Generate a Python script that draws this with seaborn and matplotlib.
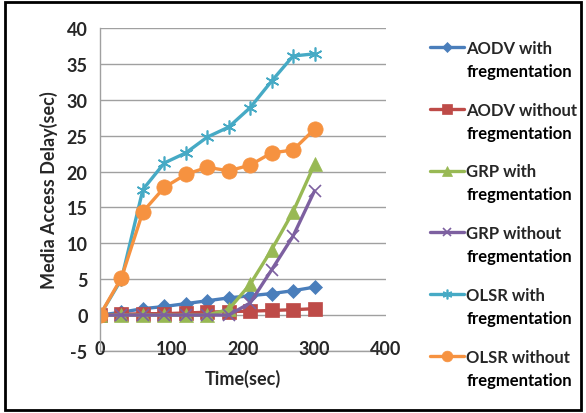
import matplotlib
matplotlib.use("Agg")
import matplotlib.pyplot as plt
import seaborn as sns
import pandas as pd
from matplotlib.patches import Rectangle
from matplotlib.font_manager import FontProperties

time = [0, 30, 60, 90, 120, 150, 180, 210, 240, 270, 300]
aodv_with = [0, 0.4, 0.9, 1.2, 1.6, 2.0, 2.4, 2.7, 3.0, 3.4, 3.9]
aodv_without = [0, 0.1, 0.2, 0.2, 0.3, 0.4, 0.5, 0.55, 0.65, 0.75, 0.9]
grp_with = [0, 0, 0, 0, 0, 0, 0.8, 4.3, 9.1, 14.4, 21.0]
grp_without = [0, 0, 0, 0, 0, 0, 0, 1.7, 6.3, 11.0, 17.3]
olsr_with = [0, 5.0, 17.5, 21.2, 22.6, 24.8, 26.2, 28.9, 32.6, 36.1, 36.4]
olsr_without = [0, 5.2, 14.4, 17.8, 19.6, 20.6, 20.1, 20.9, 22.6, 23.0, 25.9]

first_lines = ["AODV with", "AODV without", "GRP with", "GRP without",
               "OLSR with", "OLSR without"]
second_line = "fregmentation"
series = [aodv_with, aodv_without, grp_with, grp_without, olsr_with, olsr_without]
colors = ["#4a7ebb", "#be4b48", "#98b954", "#7d60a0", "#46aac5", "#f69240"]
markers = ["D", "s", "^", "x", (6, 2, 0), "o"]
msizes = [7.5, 9.5, 9.5, 9, 10, 11]

sns.set_theme(style="white")
plt.rcParams["font.family"] = ["Lato", "DejaVu Sans"]
plt.rcParams["font.weight"] = "bold"
plt.rcParams["axes.unicode_minus"] = False

fig = plt.figure(figsize=(5.86, 4.14), dpi=100)
ax = fig.add_axes([100 / 586, 62 / 414, 286 / 586, 323 / 414])

for lab, vals, c, m, ms in zip(first_lines, series, colors, markers, msizes):
    df = pd.DataFrame({"Time": time, "Delay": vals})
    sns.lineplot(data=df, x="Time", y="Delay", ax=ax, color=c, marker=m,
                 markersize=ms, linewidth=2.4, label=lab,
                 markeredgecolor=c, markeredgewidth=1.2 if m in ("x", (6, 2, 0)) else 0.5)

ax.set_xlim(0, 400)
ax.set_ylim(-5, 40)
ax.set_yticks(range(-5, 41, 5))
ax.set_xticks([0, 100, 200, 300, 400])
ax.yaxis.grid(True, color="#a0a0a0", linewidth=1)
ax.xaxis.grid(False)
ax.axhline(-5, color="#a0a0a0", linewidth=1, clip_on=False, zorder=0.5)
for s in ["top", "right", "bottom"]:
    ax.spines[s].set_visible(False)
ax.spines["left"].set_color("#a0a0a0")
ax.spines["left"].set_linewidth(1)
ax.tick_params(axis="y", labelsize=13, pad=9, length=0)
ax.tick_params(axis="x", labelsize=13, pad=-8, length=0)
for t in ax.get_xticklabels() + ax.get_yticklabels():
    t.set_fontweight("bold")
ax.set_xlabel("Time(sec)", fontsize=13, fontweight="bold", labelpad=9)
ax.set_ylabel("Media Access Delay(sec)", fontsize=13, fontweight="bold", labelpad=6)

legfont = FontProperties(family=["Lato", "DejaVu Sans"], weight="bold", size=12)
ax.get_legend().remove()
handles, labs = ax.get_legend_handles_labels()
leg = fig.legend(handles, labs, loc="upper left", bbox_to_anchor=(423 / 586, 1 - 34 / 414),
                 frameon=False, prop=legfont,
                 handlelength=2.05, handletextpad=0.15, labelspacing=2.75, markerscale=0.7,
                 borderaxespad=0)

fig.canvas.draw()
r = fig.canvas.get_renderer()
for t in leg.get_texts():
    bb = t.get_window_extent(r)
    fig.text(bb.x0 / 586, (bb.y0 - 23) / 414, second_line, fontproperties=legfont,
             ha="left", va="bottom", color="black")

fig.patches.append(Rectangle((0.008, 0.008), 0.984, 0.984, transform=fig.transFigure,
                             fill=False, edgecolor="black", linewidth=2))

fig.savefig("out.png", dpi=100)
